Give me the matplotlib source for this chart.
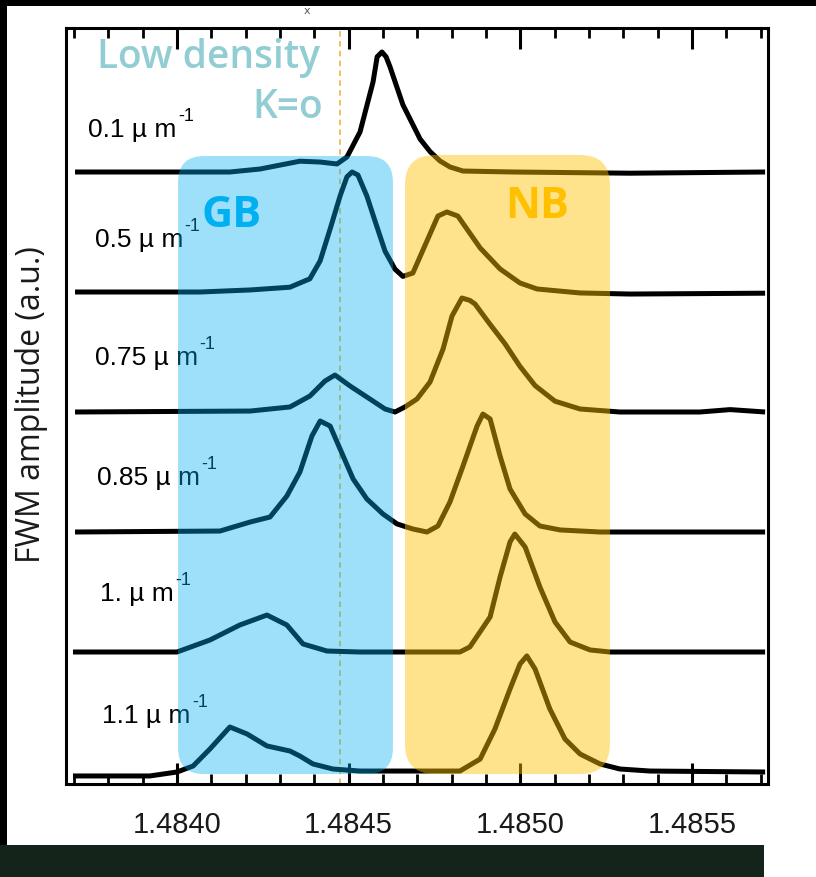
import matplotlib
matplotlib.use("Agg")
import matplotlib.pyplot as plt
from matplotlib.patches import FancyBboxPatch, Rectangle
from matplotlib.ticker import MultipleLocator

# ---- data: FWM spectra at increasing density (wavelength, amplitude above baseline) ----
densities = ["0.1", "0.5", "0.75", "0.85", "1.", "1.1"]
offsets = [5, 4, 3, 2, 1, 0]

wl_01 = [1.483703, 1.483921, 1.484154, 1.484242, 1.484358, 1.484417, 1.484466, 1.484495,
         1.484533, 1.484571, 1.484583, 1.484597, 1.484609, 1.484620, 1.484658, 1.484708,
         1.484737, 1.484766, 1.484795, 1.484833, 1.484979, 1.485319, 1.485713]
amp_01 = [0, 0, 0, 0.025, 0.09, 0.083, 0.067, 0.125, 0.333, 0.75, 0.96, 1.0, 0.96, 0.88,
          0.56, 0.275, 0.17, 0.092, 0.042, 0.008, 0, -0.01, 0]

wl_05 = [1.483703, 1.484067, 1.484213, 1.484329, 1.484387, 1.484417, 1.484446, 1.484475,
         1.484495, 1.484510, 1.484527, 1.484553, 1.484577, 1.484606, 1.484635, 1.484658,
         1.484687, 1.484728, 1.484760, 1.484786, 1.484818, 1.484883, 1.484941, 1.484999,
         1.485049, 1.485174, 1.485319, 1.485713]
amp_05 = [0, 0, 0.017, 0.04, 0.11, 0.26, 0.525, 0.8, 0.96, 1.0, 0.975, 0.8, 0.59, 0.34,
          0.19, 0.13, 0.158, 0.425, 0.633, 0.667, 0.633, 0.367, 0.192, 0.075, 0.025,
          -0.008, -0.017, -0.01]

wl_075 = [1.483703, 1.484213, 1.484329, 1.484387, 1.484431, 1.484460, 1.484504, 1.484562,
          1.484606, 1.484635, 1.484664, 1.484699, 1.484737, 1.484775, 1.484801, 1.484830,
          1.484853, 1.484868, 1.484912, 1.484955, 1.484999, 1.485043, 1.485101, 1.485174,
          1.485290, 1.485523, 1.485611, 1.485713]
amp_075 = [0, 0.008, 0.042, 0.133, 0.258, 0.308, 0.217, 0.108, 0.025, 0, 0.042, 0.108,
           0.25, 0.525, 0.8, 0.95, 0.93, 0.9, 0.73, 0.57, 0.38, 0.22, 0.09, 0.025, 0, 0,
           0.02, 0]

wl_085 = [1.483703, 1.484125, 1.484213, 1.484271, 1.484320, 1.484358, 1.484393, 1.484417,
          1.484446, 1.484475, 1.484513, 1.484553, 1.484600, 1.484641, 1.484687, 1.484728,
          1.484760, 1.484795, 1.484833, 1.484874, 1.484891, 1.484912, 1.484941, 1.484970,
          1.485014, 1.485057, 1.485116, 1.485232, 1.485713]
amp_085 = [0, 0.008, 0.083, 0.125, 0.3, 0.5, 0.8, 0.925, 0.883, 0.692, 0.442, 0.275,
           0.15, 0.067, 0.025, 0, 0.05, 0.25, 0.55, 0.883, 0.983, 0.942, 0.633, 0.358,
           0.15, 0.05, 0.017, 0, 0]

wl_10 = [1.483697, 1.484000, 1.484096, 1.484183, 1.484262, 1.484320, 1.484367, 1.484437,
         1.484533, 1.484824, 1.484853, 1.484912, 1.484941, 1.484970, 1.484984, 1.485014,
         1.485057, 1.485101, 1.485145, 1.485203, 1.485261, 1.485713]
amp_10 = [0, 0, 0.1, 0.225, 0.308, 0.225, 0.067, 0.008, 0, 0, 0.042, 0.292, 0.625, 0.917,
          0.983, 0.875, 0.542, 0.25, 0.083, 0.017, 0, 0]

wl_11 = [1.483697, 1.483921, 1.484000, 1.484047, 1.484096, 1.484154, 1.484204, 1.484262,
         1.484329, 1.484358, 1.484396, 1.484454, 1.484533, 1.484824, 1.484883, 1.484926,
         1.484970, 1.484999, 1.485019, 1.485043, 1.485086, 1.485130, 1.485174, 1.485232,
         1.485290, 1.485378, 1.485713]
amp_11 = [-0.033, -0.033, 0, 0.05, 0.192, 0.375, 0.317, 0.217, 0.175, 0.133, 0.067, 0.025,
          0.008, 0.008, 0.108, 0.358, 0.692, 0.9, 0.967, 0.858, 0.525, 0.275, 0.15, 0.067,
          0.025, 0.008, 0]

spectra = [(wl_01, amp_01), (wl_05, amp_05), (wl_075, amp_075),
           (wl_085, amp_085), (wl_10, amp_10), (wl_11, amp_11)]

x_major_ticks = [1.4840, 1.4845, 1.4850, 1.4855]
x_tick_labels = ["1.4840", "1.4845", "1.4850", "1.4855"]
k0_wavelength = 1.484475

# label anchor (wavelength, height above baseline)
label_x = [1.483741, 1.483761, 1.483761, 1.483767, 1.483776, 1.483782]
label_dy = [0.36, 0.44, 0.46, 0.46, 0.49, 0.475]

# shaded regions: (x0, x1, y0, y1)
gb_region = (1.484003, 1.484629, -0.017, 5.133)
nb_region = (1.484664, 1.485261, -0.017, 5.142)

LABEL_FONT = ["Liberation Sans", "DejaVu Sans"]
W, H = 816, 878

fig = plt.figure(figsize=(W / 100, H / 100), dpi=100)
fig.patch.set_facecolor("white")

# outer decoration bands
fig.add_artist(Rectangle((0, 1 - 7 / H), 1, 7 / H, transform=fig.transFigure,
                         facecolor="black", edgecolor="none", zorder=0))
fig.add_artist(Rectangle((0, 1 - 846 / H), 7 / W, 846 / H, transform=fig.transFigure,
                         facecolor="black", edgecolor="none", zorder=0))
fig.add_artist(Rectangle((0, 0), 764 / W, 32 / H, transform=fig.transFigure,
                         facecolor="#14241A", edgecolor="none", zorder=0))

ax = fig.add_axes([66 / W, 1 - 785 / H, (768 - 66) / W, (785 - 29) / H])
ax.set_xlim(1.4836767, 1.4857214)
ax.set_ylim(-0.1, 6.2)

# reference wavelength of the K=0 low-density line
ax.axvline(k0_wavelength, color="#EDB540", lw=1.2, linestyle=(0, (3.3, 2.6)), zorder=1)

for (wl, amp), off in zip(spectra, offsets):
    ax.plot(wl, [a + off for a in amp], color="black", lw=3.6,
            solid_joinstyle="round", solid_capstyle="butt", zorder=2)

for dens, off, lx, dy in zip(densities, offsets, label_x, label_dy):
    t = ax.text(lx, off + dy, f"{dens} \u00b5 m", fontsize=19, family=LABEL_FONT,
                ha="left", va="center", color="black", zorder=2)
    ax.annotate("-1", xy=(1.0, 1.0), xycoords=t, xytext=(1.0, 1.0),
                textcoords="offset points", fontsize=13, family=LABEL_FONT,
                ha="left", va="center", color="black", zorder=2)

# rounded shaded bands drawn with pixel-consistent corners
ax.figure.canvas.draw()
p0 = ax.transData.transform((1.484, 0.0))
p1 = ax.transData.transform((1.485, 1.0))
sx = (p1[0] - p0[0]) / 0.001
sy = (p1[1] - p0[1]) / 1.0
aspect = sx / sy

for (x0, x1, y0, y1), col, alpha, rad in [(gb_region, "#00B0F0", 0.38, 26),
                                          (nb_region, "#FFC000", 0.45, 30)]:
    box = FancyBboxPatch((x0, y0), x1 - x0, y1 - y0,
                         boxstyle=f"round,pad=0,rounding_size={rad / sx}",
                         mutation_aspect=aspect, facecolor=col, edgecolor="none",
                         alpha=alpha, zorder=3)
    ax.add_patch(box)

ax.text(1.484160, 4.55, "GB", color="#00B0F0", fontsize=31, fontweight="bold",
        family="Open Sans", ha="center", va="baseline", zorder=4)
ax.text(1.485049, 4.625, "NB", color="#FFC000", fontsize=31, fontweight="bold",
        family="Open Sans", ha="center", va="baseline", zorder=4)
ax.text(1.484417, 5.875, "Low density", color="#92CDD4", fontsize=28,
        fontweight="semibold", family="Open Sans", ha="right", va="baseline", zorder=4)
ax.text(1.484425, 5.458, "K=o", color="#92CDD4", fontsize=28,
        fontweight="semibold", family="Open Sans", ha="right", va="baseline", zorder=4)

# axes frame and ticks
for s in ax.spines.values():
    s.set_linewidth(2.2)
    s.set_color("black")
ax.set_xticks(x_major_ticks)
ax.set_xticklabels(x_tick_labels, family=LABEL_FONT, fontsize=21, color="#1a1a1a")
ax.xaxis.set_minor_locator(MultipleLocator(0.0001))
ax.tick_params(axis="x", which="major", direction="in", length=15, width=2.2,
               top=True, bottom=True, pad=19)
ax.tick_params(axis="x", which="minor", direction="in", length=7, width=2.0,
               top=True, bottom=True)
ax.set_yticks([])

fig.text(32 / W, 1 - 405 / H, "FWM amplitude (a.u.)", rotation=90, ha="center",
         va="center", fontsize=23, family="Open Sans", color="#1a1a1a")
fig.text(307 / W, 1 - 11 / H, "x", fontsize=8, color="#555555", ha="center", va="center")

fig.savefig("out.png", dpi=100, facecolor="white")
